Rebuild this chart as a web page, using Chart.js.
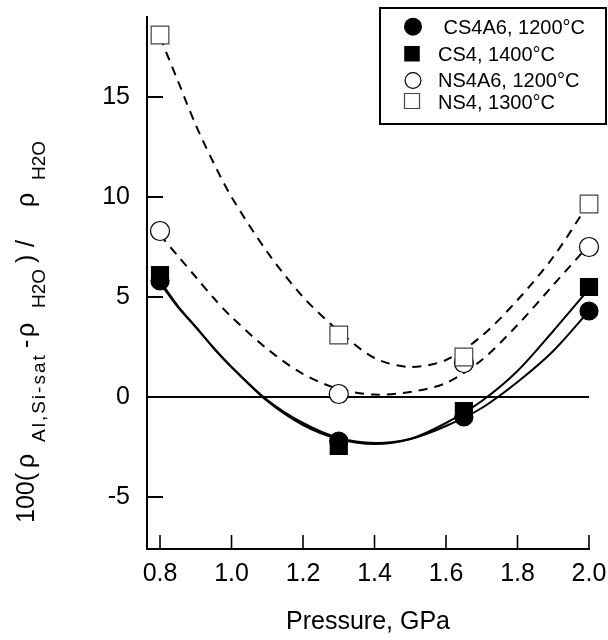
<!DOCTYPE html>
<html>
<head>
<meta charset="utf-8">
<script src="https://cdn.jsdelivr.net/npm/chart.js@4.4.1/dist/chart.umd.min.js"></script>
<style>
html,body{margin:0;padding:0;background:#fff;}
#wrap{width:608px;height:640px;position:relative;}
</style>
</head>
<body>
<div id="wrap"><canvas id="c" width="608" height="640"></canvas></div>
<script>
// ---- data ----
const pressures = [0.8, 1.3, 1.65, 2.0];
const cs4a6 = [5.8, -2.2, -1.0, 4.3];
const cs4   = [6.1, -2.45, -0.7, 5.5];
const ns4a6 = [8.3, 0.15, 1.7, 7.5];
const ns4   = [18.1, 3.1, 2.0, 9.65];
const seriesNames = [' CS4A6, 1200°C', 'CS4, 1400°C', 'NS4A6, 1200°C', 'NS4, 1300°C'];

// fitted curves
const fitX      = [0.80, 0.85, 0.90, 0.95, 1.00, 1.10, 1.20, 1.30, 1.40, 1.50, 1.60, 1.70, 1.80, 1.90, 2.00];
const fitCS4A6  = [5.7, 4.5, 3.5, 2.45, 1.5, -0.15, -1.3, -2.05, -2.3, -2.1, -1.45, -0.55, 0.75, 2.3, 4.3];
const fitCS4    = [5.8, 4.55, 3.5, 2.45, 1.5, -0.2, -1.4, -2.1, -2.35, -2.1, -1.3, -0.2, 1.3, 3.3, 5.4];
const fitNS4A6  = [8.1, 7.05, 6.0, 4.95, 4.0, 2.4, 1.15, 0.4, 0.12, 0.25, 0.7, 1.85, 3.6, 5.6, 7.6];
const fitNS4    = [18.0, 15.8, 13.6, 11.7, 10.0, 7.25, 5.0, 3.3, 1.95, 1.5, 1.85, 3.05, 4.85, 7.0, 9.7];

const xTicks = [0.8, 1.0, 1.2, 1.4, 1.6, 1.8, 2.0];
const yTicks = [-5, 0, 5, 10, 15];
const xRange = [0.7636, 2.0];
const yRange = [-7.6, 19.0];

const FONT = "'Liberation Sans', Arial, Helvetica, sans-serif";

const pts = (xs, ys) => xs.map((x, i) => ({x, y: ys[i]}));

function markerSet(label, ys, style, fill, radius, border, order) {
  return {
    label, data: pts(pressures, ys), showLine: false,
    pointStyle: style, pointRadius: radius, pointHoverRadius: radius,
    pointBackgroundColor: fill, pointBorderColor: border, pointBorderWidth: 1.2,
    order, clip: false
  };
}
function curveSet(ys, dash, order) {
  return {
    label: '_fit', data: pts(fitX, ys), showLine: true, pointRadius: 0,
    borderColor: '#000', borderWidth: 2, borderDash: dash, tension: 0.3,
    fill: false, order
  };
}

const datasets = [
  markerSet(seriesNames[0], cs4a6, 'circle', '#000', 9, '#000', 1),
  markerSet(seriesNames[1], cs4, 'rect', '#000', 12, '#000', 0),
  markerSet(seriesNames[2], ns4a6, 'circle', '#fff', 9.5, '#000', 1),
  markerSet(seriesNames[3], ns4, 'rect', '#fff', 12.5, '#444', 0),
  curveSet(fitCS4A6, [], 3),
  curveSet(fitCS4, [], 3),
  curveSet(fitNS4A6, [9, 7], 3),
  curveSet(fitNS4, [9, 7], 3),
  { label: '_zero', data: [{x: xRange[0], y: 0}, {x: xRange[1], y: 0}], showLine: true,
    pointRadius: 0, borderColor: '#000', borderWidth: 1.8, order: 4 }
];

const zeroPad = s => { s.paddingTop = 0; s.paddingBottom = 0; s.paddingLeft = 0; s.paddingRight = 0; };

const innerTicks = {
  id: 'innerTicks',
  beforeDatasetsDraw(chart) {
    const {ctx, scales: {x, y}, chartArea: a} = chart;
    ctx.save();
    ctx.strokeStyle = '#000';
    ctx.lineWidth = 2;
    y.ticks.forEach(t => {
      const py = y.getPixelForValue(t.value);
      ctx.beginPath(); ctx.moveTo(a.left, py); ctx.lineTo(a.left + 16, py); ctx.stroke();
    });
    ctx.lineWidth = 1.6;
    x.ticks.forEach(t => {
      const px = x.getPixelForValue(t.value);
      ctx.beginPath(); ctx.moveTo(px, a.bottom); ctx.lineTo(px, a.bottom - 14); ctx.stroke();
    });
    ctx.restore();
  }
};

const yTitle = {
  id: 'yTitle',
  afterDraw(chart) {
    const ctx = chart.ctx;
    const base = 34, sub = 45, start = 523;
    const parts = [
      {t: '100(', at: 0, s: false},
      {t: 'ρ', at: 55, s: false},
      {t: 'Al,Si-sat', at: 81, s: true, ls: 2},
      {t: '-', at: 175, s: false},
      {t: 'ρ', at: 186, s: false},
      {t: 'H2O', at: 215, s: true},
      {t: ')', at: 260, s: false},
      {t: '/', at: 276, s: false},
      {t: 'ρ', at: 316, s: false},
      {t: 'H2O', at: 343, s: true}
    ];
    ctx.save();
    ctx.fillStyle = '#000';
    ctx.textBaseline = 'alphabetic';
    ctx.textAlign = 'left';
    parts.forEach(p => {
      ctx.save();
      ctx.translate(p.s ? sub : base, start - p.at);
      ctx.rotate(-Math.PI / 2);
      ctx.font = (p.s ? '19px ' : '25px ') + FONT;
      if ('letterSpacing' in ctx) ctx.letterSpacing = (p.ls || 0) + 'px';
      ctx.fillText(p.t, 0, 0);
      ctx.restore();
    });
    ctx.restore();
  }
};

const legendBox = {
  id: 'legendBox',
  afterDraw(chart) {
    const ctx = chart.ctx;
    ctx.save();
    ctx.fillStyle = '#fff';
    ctx.fillRect(380, 8, 226, 116);
    ctx.strokeStyle = '#000';
    ctx.lineWidth = 2;
    ctx.strokeRect(380, 8, 226, 116);
    const rows = [
      {my: 26.7, ty: 34, r: 8.4, mx: 413},
      {my: 53.8, ty: 61, r: 10.1, mx: 412},
      {my: 80.5, ty: 87, r: 7.9, mx: 413},
      {my: 101, ty: 109, r: 10.6, mx: 412}
    ];
    rows.forEach((row, i) => {
      const ds = chart.data.datasets[i];
      ctx.fillStyle = ds.pointBackgroundColor;
      ctx.strokeStyle = ds.pointBorderColor;
      ctx.lineWidth = 1.2;
      Chart.helpers.drawPoint(ctx, {pointStyle: ds.pointStyle, radius: row.r, rotation: 0, borderWidth: 1.2}, row.mx, row.my);
      ctx.fillStyle = '#000';
      ctx.font = '20px ' + FONT;
      ctx.textBaseline = 'alphabetic';
      ctx.textAlign = 'left';
      ctx.fillText(ds.label, 438, row.ty);
    });
    ctx.restore();
  }
};

new Chart(document.getElementById('c'), {
  type: 'scatter',
  data: { datasets },
  options: {
    responsive: false,
    animation: false,
    devicePixelRatio: 1,
    layout: { padding: { top: 17, right: 19, left: 0, bottom: 0 } },
    plugins: { legend: { display: false }, tooltip: { enabled: false } },
    scales: {
      x: {
        type: 'linear', min: xRange[0], max: xRange[1],
        afterBuildTicks: s => { s.ticks = xTicks.map(v => ({value: v})); },
        afterFit: s => { s.height = 91; zeroPad(s); },
        grid: { display: false, drawTicks: false },
        border: { display: true, color: '#000', width: 2 },
        ticks: { color: '#000', font: { family: FONT, size: 25 }, padding: 10,
                 maxRotation: 0, autoSkip: false, callback: v => Number(v).toFixed(1) },
        title: { display: true, text: 'Pressure, GPa', color: '#000',
                 font: { family: FONT, size: 25 }, padding: { top: 0, bottom: 3 } }
      },
      y: {
        type: 'linear', min: yRange[0], max: yRange[1],
        afterBuildTicks: s => { s.ticks = yTicks.map(v => ({value: v})); },
        afterFit: s => { s.width = 147; zeroPad(s); },
        grid: { display: false, drawTicks: false },
        border: { display: true, color: '#000', width: 2 },
        ticks: { color: '#000', font: { family: FONT, size: 25 }, padding: 17,
                 autoSkip: false, callback: v => String(v) }
      }
    }
  },
  plugins: [innerTicks, yTitle, legendBox]
});
</script>
</body>
</html>
